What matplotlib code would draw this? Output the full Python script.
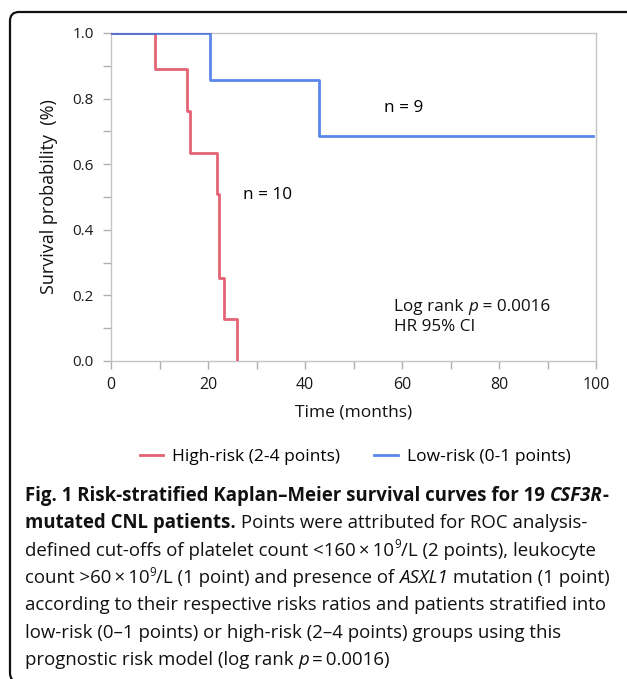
import matplotlib
matplotlib.use("Agg")
import matplotlib.pyplot as plt
from matplotlib.transforms import IdentityTransform
from matplotlib.patches import FancyBboxPatch
from matplotlib.ticker import MultipleLocator

# ---------------- data ----------------
high_time = [0, 9.1, 15.6, 16.2, 21.9, 22.3, 23.3, 25.9]
high_surv = [1.0, 0.889, 0.762, 0.635, 0.508, 0.254, 0.127, 0.0]
low_time = [0, 20.5, 42.8, 99.3]
low_surv = [1.0, 0.857, 0.686, 0.686]
high_label = "High-risk (2-4 points)"
low_label = "Low-risk (0-1 points)"
x_ticks = [0, 20, 40, 60, 80, 100]
y_ticks = [0.0, 0.2, 0.4, 0.6, 0.8, 1.0]
n_high = "n = 10"
n_low = "n = 9"

caption_lines = [
    [("Fig. 1 Risk-stratified Kaplan\u2013Meier survival curves for 19 ", "b"), ("CSF3R", "bi"), ("-", "b")],
    [("mutated CNL patients.", "b"), (" Points were attributed for ROC analysis-", "n")],
    [("defined cut-offs of platelet count <160\u2009\u00d7\u200910", "n"), ("9", "sup"), ("/L (2 points), leukocyte", "n")],
    [("count >60\u2009\u00d7\u200910", "n"), ("9", "sup"), ("/L (1 point) and presence of ", "n"), ("ASXL1", "i"), (" mutation (1 point)", "n")],
    [("according to their respective risks ratios and patients stratified into", "n")],
    [("low-risk (0\u20131 points) or high-risk (2\u20134 points) groups using this", "n")],
    [("prognostic risk model (log rank ", "n"), ("p", "i"), ("\u2009=\u20090.0016)", "n")],
]

FONT = "Open Sans"
RED = "#e0485c"
BLUE = "#3f72e6"
W, H = 627, 679

fig = plt.figure(figsize=(W / 100, H / 100), dpi=100)
fig.patch.set_facecolor("white")

# rounded outer frame (right and bottom edges fall just outside the image)
frame = FancyBboxPatch((10, -3), 632, H - 9, boxstyle="round,pad=0,rounding_size=9",
                       transform=IdentityTransform(), fill=False, edgecolor="#111111",
                       linewidth=1.6, zorder=0)
fig.patches.append(frame)

ax = fig.add_axes([111 / W, 1 - 361 / H, 485 / W, 328 / H])
ax.step(high_time, high_surv, where="post", color=RED, lw=2.0, alpha=0.85, zorder=3)
ax.step(low_time, low_surv, where="post", color=BLUE, lw=2.0, alpha=0.85, zorder=3)

ax.set_xlim(0, 100)
ax.set_ylim(0, 1)
ax.set_xticks(x_ticks)
ax.set_yticks(y_ticks)
ax.set_xticklabels([str(v) for v in x_ticks])
ax.set_yticklabels([f"{v:.1f}" for v in y_ticks])
ax.xaxis.set_minor_locator(MultipleLocator(10))
ax.yaxis.set_minor_locator(MultipleLocator(0.1))
for s in ax.spines.values():
    s.set_color("#c4c4c4")
    s.set_linewidth(1.0)
ax.tick_params(which="both", direction="out", color="#b0b0b0", width=1.0, length=5.5)
ax.tick_params(axis="y", labelsize=11, labelcolor="#1a1a1a", pad=7)
ax.tick_params(axis="x", labelsize=11.5, labelcolor="#1a1a1a", pad=6)
for lab in ax.get_xticklabels() + ax.get_yticklabels():
    lab.set_family(FONT)

ax.set_xlabel("Time (months)", family=FONT, fontsize=12.5, labelpad=8, color="#111111")
ax.set_ylabel("Survival probability  (%)", family=FONT, fontsize=13, labelpad=10, color="#111111")

ax.text(56.2, 0.771, n_low, family=FONT, fontsize=12.3, va="center", ha="left")
ax.text(27.2, 0.506, n_high, family=FONT, fontsize=12.3, va="center", ha="left")

leg = ax.legend(handles=[ax.lines[0], ax.lines[1]], labels=[high_label, low_label],
                loc="center", bbox_to_anchor=(355 / W, 1 - 457 / H), bbox_transform=fig.transFigure,
                ncol=2, frameon=False, handlelength=1.35, columnspacing=2.0, handletextpad=0.5,
                prop={"family": FONT, "size": 12.5})

renderer = fig.canvas.get_renderer()


def style_kw(style, size):
    kw = dict(family=FONT, size=size, weight="normal", style="normal")
    if style in ("b", "bi"):
        kw["weight"] = "bold"
    if style in ("i", "bi"):
        kw["style"] = "italic"
    if style == "sup":
        kw["size"] = size * 0.62
    return kw


def text_width(txt, kw):
    t = fig.text(0, 0, "|" + txt + "|", transform=IdentityTransform(), **kw)
    w1 = t.get_window_extent(renderer).width
    t.remove()
    t = fig.text(0, 0, "||", transform=IdentityTransform(), **kw)
    w2 = t.get_window_extent(renderer).width
    t.remove()
    return w1 - w2


def draw_rich(x, y, pieces, size, color="#111111"):
    cur = x
    for txt, style in pieces:
        kw = style_kw(style, size)
        yy = y + (size * 0.55 if style == "sup" else 0)
        fig.text(cur, yy, txt, transform=IdentityTransform(), va="baseline", ha="left",
                 color=color, **kw)
        cur += text_width(txt, kw)


# annotation inside plot (baseline positions in data coords)
px, py = ax.transData.transform((58.4, 0.152))
draw_rich(px, py, [("Log rank ", "n"), ("p", "i"), (" = 0.0016", "n")], 12.3)
px, py = ax.transData.transform((58.4, 0.091))
draw_rich(px, py, [("HR 95% CI", "n")], 12.3)

# caption
y0 = H - 501
for i, line in enumerate(caption_lines):
    draw_rich(25, y0 - i * 27.3, line, 13.4)

fig.savefig("out.png", dpi=100)
